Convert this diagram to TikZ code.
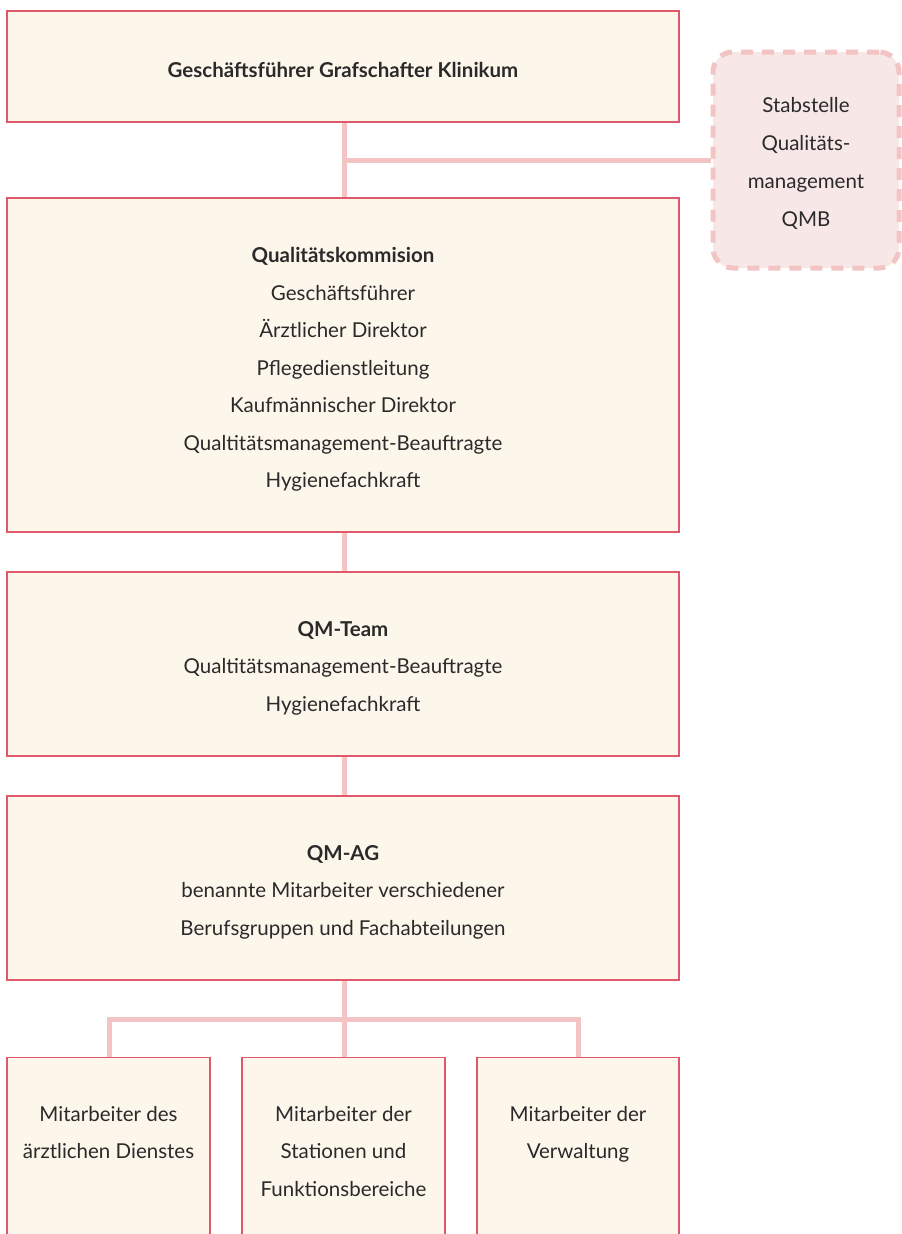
\documentclass[tikz,border=0pt]{standalone}
\usepackage{fontspec}
\setmainfont{Lato}
\definecolor{boxfill}{HTML}{FDF6EB}
\definecolor{boxline}{HTML}{E0586C}
\definecolor{conn}{HTML}{F2C4C4}
\definecolor{stabfill}{HTML}{F8E7E7}
\definecolor{txt}{HTML}{2A2A2A}
\tikzset{
  orgbox/.style={draw=boxline, line width=1.3pt, fill=boxfill, rectangle, inner sep=0pt},
  stabbox/.style={draw=conn, line width=5pt, dash pattern=on 12pt off 9pt, fill=stabfill, rounded corners=20pt, rectangle, inner sep=0pt},
  lbl/.style={text=txt, align=center, font=\fontsize{20.5}{37.5}\selectfont, inner sep=0pt},
  link/.style={draw=conn, line width=5pt}
}
\begin{document}
\begin{tikzpicture}[x=1pt,y=-1pt]
\clip (0,0) rectangle (902,1234);
\fill[white] (0,0) rectangle (902,1234);
\coordinate (j1) at (344,160);
\coordinate (j2) at (344,1019);
\coordinate (jl) at (109,1019);
\coordinate (jr) at (578,1019);
% boxes
\node[orgbox, minimum width=672, minimum height=111] (gf) at (343,66.5) {};
\node[stabbox, minimum width=186, minimum height=216] (stab) at (806,160) {};
\node[orgbox, minimum width=672, minimum height=334] (qk) at (343,365) {};
\node[orgbox, minimum width=672, minimum height=184] (qt) at (343,664) {};
\node[orgbox, minimum width=672, minimum height=184] (ag) at (343,888) {};
\node[orgbox, minimum width=203, minimum height=220, anchor=north] (b1) at (108.5,1057) {};
\node[orgbox, minimum width=203, minimum height=220, anchor=north] (b2) at (343.5,1057) {};
\node[orgbox, minimum width=202, minimum height=220, anchor=north] (b3) at (578,1057) {};
% texts
\node[lbl] (gft) at ([yshift=-3.5pt]gf.center) {\textbf{Geschäftsführer Grafschafter Klinikum}};
\node[lbl, font=\fontsize{20.5}{38}\selectfont] (stabt) at ([yshift=-3pt]stab.center) {Stabstelle\\Qualitäts-\\management\\QMB};
\node[lbl] (qkt) at ([yshift=-4.5pt]qk.center) {\textbf{Qualitätskommision}\\Geschäftsführer\\Ärztlicher Direktor\\Pflegedienstleitung\\Kaufmännischer Direktor\\Qualtitätsmanagement-Beauftragte\\Hygienefachkraft};
\node[lbl] (qtt) at ([yshift=-4pt]qt.center) {\textbf{QM-Team}\\Qualtitätsmanagement-Beauftragte\\Hygienefachkraft};
\node[lbl] (agt) at ([yshift=-4pt]ag.center) {\textbf{QM-AG}\\benannte Mitarbeiter verschiedener\\Berufsgruppen und Fachabteilungen};
\node[lbl, anchor=north] (t1) at (b1.north |- 0,1106) {Mitarbeiter des\\ärztlichen Dienstes};
\node[lbl, anchor=north] (t2) at (b2.north |- 0,1106) {Mitarbeiter der\\Stationen und\\Funktionsbereiche};
\node[lbl, anchor=north] (t3) at (b3.north |- 0,1106) {Mitarbeiter der\\Verwaltung};
% connectors
\draw[link] (gf.south -| j1) -- (qk.north -| j1);
\draw[link] (j1) -- (stab.west);
\draw[link] (qk.south -| j1) -- (qt.north -| j1);
\draw[link] (qt.south -| j1) -- (ag.north -| j1);
\draw[link] (ag.south -| j2) -- (b2.north -| j2);
\draw[link] (b1.north -| jl) -- (jl) -- (jr) -- (b3.north -| jr);
\end{tikzpicture}
\end{document}
